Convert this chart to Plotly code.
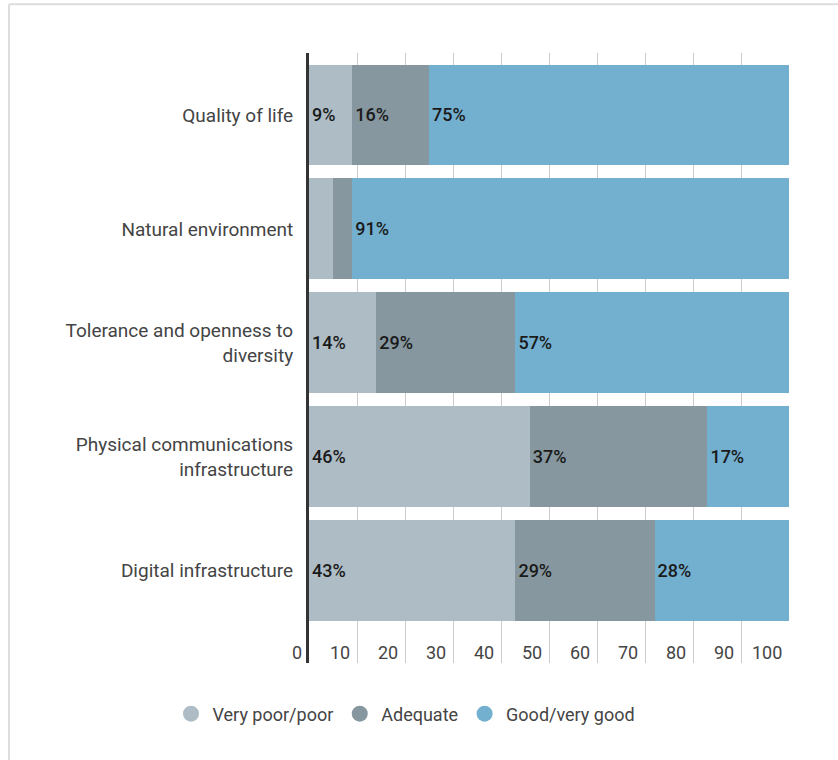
import plotly.graph_objects as go

categories = [
    "Quality of life",
    "Natural environment",
    "Tolerance and openness to<br>diversity",
    "Physical communications<br>infrastructure",
    "Digital infrastructure",
]
series_names = ["Very poor/poor", "Adequate", "Good/very good"]
very_poor = [9, 5, 14, 46, 43]
adequate = [16, 4, 29, 37, 29]
good = [75, 91, 57, 17, 28]
x_ticks = [0, 10, 20, 30, 40, 50, 60, 70, 80, 90, 100]

colors = ["#aebdc5", "#86979f", "#73b0d0"]
FONT = "Roboto, 'Open Sans', sans-serif"

fig = go.Figure()
for name, vals, col in zip(series_names, [very_poor, adequate, good], colors):
    fig.add_trace(go.Bar(
        y=categories, x=vals, orientation="h", name=name,
        marker=dict(color=col, line=dict(width=0)),
        text=[f"{v}%" if v >= 9 else "" for v in vals],
        textposition="inside", insidetextanchor="start",
        textangle=0, constraintext="none",
        textfont=dict(family=FONT, size=18, color="#1a1a1a", weight=500),
        showlegend=False, hoverinfo="x+name",
    ))
    fig.add_trace(go.Scatter(
        x=[None], y=[None], mode="markers", name=name,
        marker=dict(symbol="circle", size=16, color=col),
        showlegend=True,
    ))

annotations = [
    dict(x=t, y=0.018, xref="x", yref="paper", text=str(t), showarrow=False,
         xanchor="right", yanchor="middle", xshift=-5,
         font=dict(family=FONT, size=18, color="#444444"))
    for t in x_ticks
]

fig.update_layout(
    width=838, height=760,
    margin=dict(l=309, r=49, t=53, b=97),
    paper_bgcolor="white", plot_bgcolor="white",
    barmode="stack", bargap=0.114,
    font=dict(family=FONT, size=18, color="#444444"),
    xaxis=dict(range=[0, 100], tickvals=x_ticks, showticklabels=False,
               showgrid=True, gridcolor="#cccccc", gridwidth=1,
               zeroline=False, showline=False, fixedrange=True),
    yaxis=dict(type="category", range=[4.812, -0.544], showgrid=False,
               showline=True, linecolor="#333333", linewidth=3,
               ticks="", ticklabelstandoff=9,
               tickfont=dict(family=FONT, size=19, color="#444444")),
    legend=dict(orientation="h", x=0.20, xanchor="center", y=-0.0836,
                yanchor="middle", font=dict(family=FONT, size=18, color="#444444"),
                itemwidth=33, traceorder="normal"),
    annotations=annotations,
    shapes=[
        dict(type="line", xref="paper", yref="paper", x0=-0.625, x1=-0.625,
             y0=-0.2, y1=1.08, line=dict(color="#dddddd", width=2)),
        dict(type="line", xref="paper", yref="paper", x0=-0.625, x1=1.2,
             y0=1.08, y1=1.08, line=dict(color="#dddddd", width=2)),
    ],
)

fig.write_html("out.html", config={"displayModeBar": False},
               post_script="document.body.style.margin='0px';")
